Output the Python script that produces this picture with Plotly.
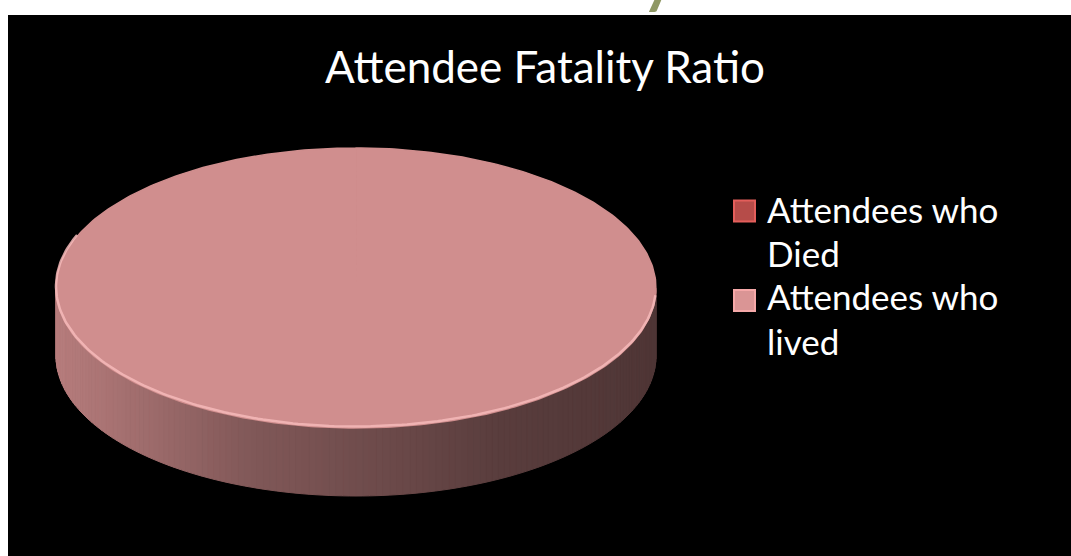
import numpy as np
import plotly.graph_objects as go

# ---- data ----
categories = ["Attendees who Died", "Attendees who lived"]
values = [1, 9999]
legend_lines = [["Attendees who", "Died"], ["Attendees who", "lived"]]
title_text = "Attendee Fatality Ratio"
slice_rgb = [(192, 80, 77), (208, 142, 142)]

# ---- geometry / style ----
W, H = 1071, 556
CX, CY, RX, RY, DEPTH = 356, 288, 300, 140, 68
FONT = "Lato"

def ell(theta, dy=0.0):
    return CX + RX * np.sin(theta), CY - RY * np.cos(theta) + dy

def shade(x):
    xs = [56, 250, 360, 500, 656]
    fs = [0.88, 0.62, 0.54, 0.43, 0.38]
    return float(np.interp(x, xs, fs))

def rgb(c, f=1.0):
    return "rgb(%d,%d,%d)" % tuple(int(round(min(255, v * f))) for v in c)

fig = go.Figure()

total = float(sum(values))
fracs = [v / total for v in values]
bounds = np.concatenate([[0.0], np.cumsum(fracs)]) * 2 * np.pi

# side of the 3D pie (front half only), drawn as shaded strips
N = 140
front = np.linspace(np.pi / 2, 3 * np.pi / 2, N + 1)
for i in range(N):
    t0, t1 = front[i], front[i + 1]
    tm = 0.5 * (t0 + t1)
    k = int(np.searchsorted(bounds, tm, side="right") - 1)
    k = min(max(k, 0), len(values) - 1)
    ts = np.linspace(t0, t1, 4)
    xt, yt = ell(ts)
    xb, yb = ell(ts[::-1], DEPTH)
    xs = np.concatenate([xt, xb, xt[:1]])
    ys = np.concatenate([yt, yb, yt[:1]])
    col = rgb(slice_rgb[k], shade(float(np.mean(xt))))
    fig.add_trace(go.Scatter(x=xs, y=ys, mode="lines", fill="toself",
                             fillcolor=col, line=dict(color=col, width=1),
                             hoverinfo="skip", showlegend=False))

# top face slices
for k, (a0, a1) in enumerate(zip(bounds[:-1], bounds[1:])):
    n = max(3, int(np.ceil((a1 - a0) / (2 * np.pi) * 400)))
    ts = np.linspace(a0, a1, n)
    xa, ya = ell(ts)
    xs = np.concatenate([[CX], xa, [CX]])
    ys = np.concatenate([[CY], ya, [CY]])
    fig.add_trace(go.Scatter(x=xs, y=ys, mode="lines", fill="toself",
                             fillcolor=rgb(slice_rgb[k]),
                             line=dict(color=rgb(slice_rgb[k]), width=1.5),
                             name=categories[k], hoverinfo="skip",
                             showlegend=False))

# rim highlight along the front edge of the top face
ts = np.linspace(np.pi * 0.52, np.pi * 1.62, 200)
xr, yr = ell(ts, -1.5)
fig.add_trace(go.Scatter(x=xr, y=yr, mode="lines",
                         line=dict(color="rgba(246,186,186,0.85)", width=2.5),
                         hoverinfo="skip", showlegend=False))

# legend markers
leg_x = [744.5, 744.5]
leg_y = [211, 300.5]
for k in range(len(categories)):
    fig.add_trace(go.Scatter(x=[leg_x[k]], y=[leg_y[k]], mode="markers",
                             marker=dict(symbol="square", size=21,
                                         color=rgb(slice_rgb[k], 0.95 if k == 0 else 1.05),
                                         line=dict(color=rgb(slice_rgb[k], 1.18), width=2)),
                             hoverinfo="skip", showlegend=False))

annotations = []
# title
annotations.append(dict(x=545, y=66, xref="x", yref="y", text=title_text,
                        showarrow=False, xanchor="center", yanchor="middle",
                        font=dict(family=FONT, size=44, color="white")))
# legend text
line_y = [[208.5, 252.5], [296, 340.5]]
for k in range(len(categories)):
    for j, t in enumerate(legend_lines[k]):
        annotations.append(dict(x=765, y=line_y[k][j], xref="x", yref="y", text=t,
                                showarrow=False, xanchor="left", yanchor="middle",
                                font=dict(family=FONT, size=35, color="white")))
# cropped heading fragment above the chart (only its descender shows)
annotations.append(dict(x=658, y=17, xref="x", yref="y", text="<b>y</b>",
                        showarrow=False, xanchor="center", yanchor="bottom",
                        font=dict(family=FONT, size=60, color="#8F9864")))

fig.update_layout(
    width=W, height=H,
    margin=dict(l=8, r=0, t=15, b=0, pad=0),
    paper_bgcolor="white", plot_bgcolor="black",
    xaxis=dict(range=[8, W], visible=False, fixedrange=True),
    yaxis=dict(range=[H, 15], visible=False, fixedrange=True),
    annotations=annotations,
    showlegend=False,
)

fig.write_html("out.html", config={"displayModeBar": False, "staticPlot": True},
               post_script="document.body.style.margin='0';document.body.style.overflow='hidden';")
